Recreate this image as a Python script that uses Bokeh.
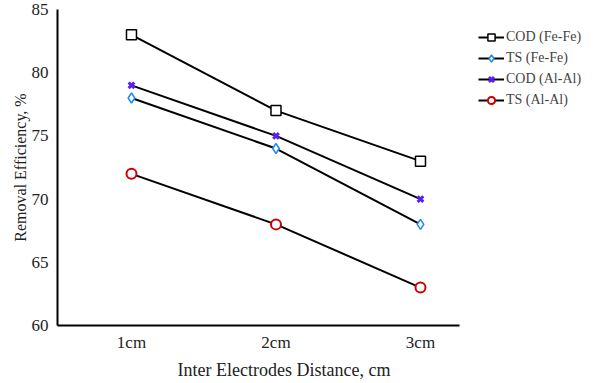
from bokeh.plotting import figure
from bokeh.models import Legend, LegendItem, FixedTicker, Range1d, Title
from bokeh.embed import file_html
from bokeh.resources import INLINE

categories = ["1cm", "2cm", "3cm"]
x_pos = [1, 2, 3]
cod_fe = [83, 77, 73]
ts_fe = [78, 74, 68]
cod_al = [79, 75, 70]
ts_al = [72, 68, 63]
y_ticks = [60, 65, 70, 75, 80, 85]

FONT = "Liberation Serif"

p = figure(frame_width=402, frame_height=316, output_backend="svg", toolbar_location=None,
           x_range=Range1d(0.488, 3.27), y_range=Range1d(60, 85),
           min_border_left=57, min_border_top=9, min_border_bottom=30, min_border_right=0)
p.outline_line_color = None
p.grid.grid_line_color = None
p.background_fill_color = "white"

series = [
    ("COD (Fe-Fe)", cod_fe, "square", "#000000", "white", 1.5),
    ("TS (Fe-Fe)", ts_fe, "diamond", "#1e88f5", "white", 1.5),
    ("COD (Al-Al)", cod_al, "x", "#5a1ef0", "#5a1ef0", 3),
    ("TS (Al-Al)", ts_al, "circle", "#cc0000", "white", 2),
]
items = []
for name, ys, marker, col, fill, lw in series:
    l = p.line(x_pos, ys, line_color="black", line_width=2)
    s = p.scatter(x_pos, ys, marker=marker, size=10 if marker != "x" else 8,
                  line_color=col, fill_color=fill, line_width=lw)
    items.append(LegendItem(label=name, renderers=[l, s]))

legend = Legend(items=items, location="top_left", border_line_color=None,
                label_text_font=FONT, label_text_font_size="14px",
                glyph_width=26, glyph_height=18, spacing=3, padding=4, margin=19,
                label_standoff=2)
p.add_layout(legend, "right")

p.xaxis.ticker = FixedTicker(ticks=x_pos)
p.xaxis.major_label_overrides = {x: c for x, c in zip(x_pos, categories)}
p.yaxis.ticker = FixedTicker(ticks=y_ticks)
for ax in (p.xaxis, p.yaxis):
    ax.axis_line_width = 2
    ax.axis_line_color = "black"
    ax.major_tick_line_color = None
    ax.minor_tick_line_color = None
    ax.major_label_text_font = FONT
    ax.major_label_text_font_size = "17px"
    ax.major_label_text_color = "#222222"
    ax.axis_label_text_font = FONT
    ax.axis_label_text_font_size = "16px"
    ax.axis_label_text_font_style = "normal"
    ax.axis_label_text_color = "#222222"
p.xaxis.major_label_standoff = 1
p.yaxis.major_label_standoff = 3
p.yaxis.axis_label = "Removal Efficiency, %"
p.yaxis.axis_label_standoff = 0

xtitle = Title(text="Inter Electrodes Distance, cm", align="left", offset=120,
               text_font=FONT, text_font_size="18px", text_font_style="normal",
               text_color="#222222", standoff=6)
p.add_layout(xtitle, "below")

open("out.html", "w").write(file_html(p, INLINE))
